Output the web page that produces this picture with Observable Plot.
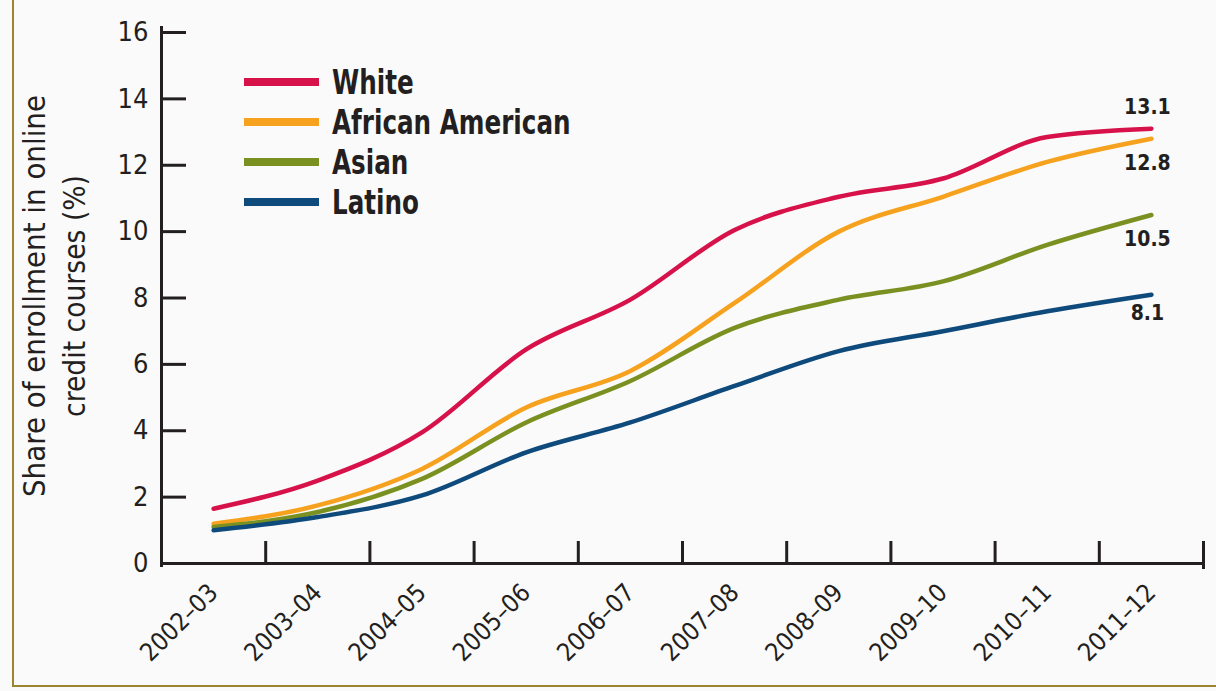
<!DOCTYPE html>
<html>
<head>
<meta charset="utf-8">
<script src="https://cdn.jsdelivr.net/npm/d3@7"></script>
<script src="https://cdn.jsdelivr.net/npm/@observablehq/plot@0.6"></script>
<style>
  html, body { margin: 0; padding: 0; background: #fafafa; }
  #wrap { position: relative; width: 1216px; height: 691px; overflow: hidden; }
  #border { position: absolute; left: 12px; top: -10px; width: 1300px; height: 697px;
            border-left: 2px solid #9c8531; border-bottom: 2px solid #9c8531; box-sizing: border-box; }
  #chart { position: absolute; left: 0; top: 0; }
  #legend { position: absolute; left: 244px; top: 62px; font-family: 'Liberation Sans Narrow', 'DejaVu Sans Condensed', sans-serif;
            font-weight: bold; font-size: 33px; color: #231f20; }
  .row { display: flex; align-items: center; height: 40px; white-space: nowrap; }
  .sw { width: 75px; height: 8px; margin-right: 13px; flex: none; }
  .lt { display: inline-block; transform: scaleX(0.83); transform-origin: 0 50%; }
</style>
</head>
<body>
<div id="wrap">
  <div id="border"></div>
  <div id="chart"></div>
  <div id="legend"></div>
</div>
<script>
const periods = ["2002–03","2003–04","2004–05","2005–06","2006–07","2007–08","2008–09","2009–10","2010–11","2011–12"];
const seriesNames = ["White","African American","Asian","Latino"];
const seriesColors = ["#d7124a","#f6a21e","#7a9121","#0e4a7c"];
const white    = [1.65, 2.5, 3.95, 6.45, 7.95, 10.05, 11.05, 11.6, 12.85, 13.1];
const african  = [1.2, 1.75, 2.85, 4.7, 5.8, 7.85, 10.0, 11.05, 12.1, 12.8];
const asian    = [1.1, 1.55, 2.55, 4.25, 5.5, 7.1, 7.95, 8.5, 9.6, 10.5];
const latino   = [1.0, 1.4, 2.05, 3.35, 4.25, 5.35, 6.4, 7.0, 7.6, 8.1];
const yTicks = [0,2,4,6,8,10,12,14,16];
const endLabels = ["13.1","12.8","10.5","8.1"];
const endLabelDy = [-21, 25, 24, 19];
const yTitle = ["Share of enrollment in online", "credit courses (%)"];
const yTitleLengths = [402, 242];

const seriesValues = [white, african, asian, latino];
const data = seriesNames.flatMap((s, k) => seriesValues[k].map((v, i) => ({series: s, i, value: v})));
const boundaries = d3.range(periods.length - 1).map(i => i + 0.5);
const lastIdx = periods.length - 1;

const font = "'Liberation Sans Narrow', 'DejaVu Sans Condensed', sans-serif";
const ink = "#231f20";

const marks = [
  Plot.axisY({ticks: yTicks, tickSize: 0, tickPadding: 13, fontSize: 27, fill: ink, label: null}),
  Plot.axisX({ticks: d3.range(periods.length), tickFormat: i => periods[i], tickRotate: -45, tickSize: 0, tickPadding: 25, fontSize: 25, fill: ink, label: null}),
  Plot.tickY(yTicks, {y: d => d, insetRight: 1017, stroke: ink, strokeWidth: 3}),
  Plot.tickX(boundaries, {x: d => d, insetTop: 509, stroke: ink, strokeWidth: 3}),
  Plot.tickX([periods.length - 0.5], {x: d => d, insetTop: 509, insetBottom: -6, stroke: ink, strokeWidth: 3}),
  Plot.ruleY([0], {stroke: ink, strokeWidth: 3}),
  Plot.ruleX([-0.5], {stroke: ink, strokeWidth: 3, insetTop: -6, insetBottom: -4}),
  Plot.line(data, {x: "i", y: "value", stroke: "series", strokeWidth: 4.5, curve: "monotone-x"}),
  ...seriesNames.map((s, k) => Plot.text([seriesValues[k][lastIdx]], {
    x: () => lastIdx, y: d => d, text: () => endLabels[k], dy: endLabelDy[k], dx: -4,
    fontSize: 21, fontWeight: "bold", fill: ink
  })),
  Plot.text([yTitle[0]], {frameAnchor: "left", textAnchor: "middle", dx: -126, dy: -2, rotate: -90, fontSize: 31, fill: ink}),
  Plot.text([yTitle[1]], {frameAnchor: "left", textAnchor: "middle", dx: -86, dy: -2, rotate: -90, fontSize: 31, fill: ink})
];

const chart = Plot.plot({
  width: 1216, height: 691,
  marginLeft: 161, marginRight: 13, marginTop: 32, marginBottom: 128,
  style: {fontFamily: font, background: "transparent", color: ink},
  x: {type: "linear", domain: [-0.5, periods.length - 0.5], axis: null},
  y: {domain: [0, 16], axis: null},
  color: {domain: seriesNames, range: seriesColors},
  marks
});
document.getElementById("chart").appendChild(chart);

// fit the condensed y-axis title lines to the reference lengths
d3.select(chart).selectAll("text").each(function() {
  const k = yTitle.indexOf(this.textContent);
  if (k >= 0) {
    this.setAttribute("textLength", yTitleLengths[k]);
    this.setAttribute("lengthAdjust", "spacingAndGlyphs");
  }
});

const legend = document.getElementById("legend");
seriesNames.forEach((s, k) => {
  const row = document.createElement("div");
  row.className = "row";
  const sw = document.createElement("div");
  sw.className = "sw";
  sw.style.background = seriesColors[k];
  const t = document.createElement("span");
  t.className = "lt";
  t.textContent = s;
  row.appendChild(sw); row.appendChild(t);
  legend.appendChild(row);
});
</script>
</body>
</html>
